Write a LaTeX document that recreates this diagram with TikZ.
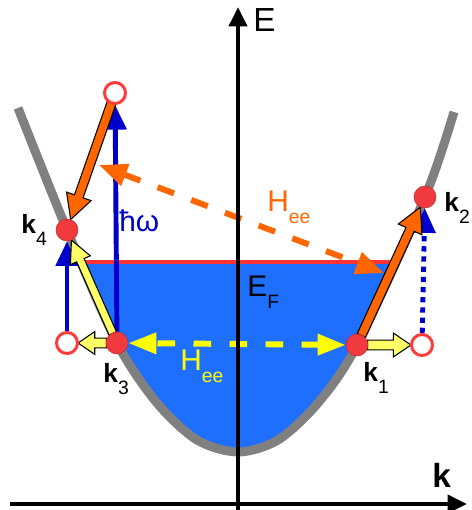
\documentclass[tikz,border=0pt]{standalone}
\usepackage{fontspec}
\setmainfont{Liberation Sans}
\usetikzlibrary{positioning,calc,arrows.meta}

\definecolor{seablue}{RGB}{31,111,255}
\definecolor{bandgray}{RGB}{128,128,128}
\definecolor{fermired}{RGB}{255,51,51}
\definecolor{dotred}{RGB}{240,58,62}
\definecolor{holered}{RGB}{255,60,60}
\definecolor{photonblue}{RGB}{0,0,204}
\definecolor{eeorange}{RGB}{255,102,0}
\definecolor{eeyellow}{RGB}{255,255,0}
\definecolor{lightyellow}{RGB}{255,255,102}

\pgfdeclarelayer{background}
\pgfdeclarelayer{arrowlayer}
\pgfsetlayers{background,arrowlayer,main}

% lowered small index
\newcommand{\lowidx}[1]{\raisebox{-6.5pt}{\normalfont\fontsize{11}{11}\selectfont #1}}
% outlined block arrow: from, to, fill, half shaft, half head, head length
\newcommand{\blockarrow}[6]{%
  \coordinate (ba-s) at ($(#1)!6pt!(#2)$);
  \coordinate (ba-t) at ($(#2)!6.3pt!(#1)$);
  \coordinate (ba-h) at ($(ba-t)!#6!(ba-s)$);
  \filldraw[blockline, fill=#3] ($(ba-s)!#4!90:(ba-t)$) -- ($(ba-h)!#4!90:(ba-t)$)
    -- ($(ba-h)!#5!90:(ba-t)$) -- (ba-t) -- ($(ba-h)!#5!270:(ba-t)$)
    -- ($(ba-h)!#4!270:(ba-t)$) -- ($(ba-s)!#4!270:(ba-t)$) -- cycle;
}

\begin{document}
\begin{tikzpicture}[x=0.02cm, y=0.02cm,
    dot/.style={circle, fill=dotred, draw=dotred!80!black, line width=0.3pt,
                minimum size=0.44cm, inner sep=0pt},
    hole/.style={circle, fill=white, draw=holered, line width=1.7pt,
                 minimum size=0.42cm, inner sep=0pt},
    lbl/.style={anchor=base west, inner sep=0pt, font=\fontsize{17}{17}\selectfont},
    klbl/.style={anchor=base west, inner sep=0pt, font=\fontsize{15}{15}\selectfont\bfseries},
    axis/.style={line width=2.8pt, -{Triangle[length=11pt, width=10pt]}},
    photon/.style={draw=photonblue, line width=2.8pt, -{Triangle[length=14pt, width=12.5pt]}},
    eedash/.style={line width=3.4pt, dash pattern=on 10pt off 10.5pt},
    blockline/.style={draw=black, line width=0.6pt, line join=miter}
]

\useasboundingbox (0,0) rectangle (472,510);

% band and Fermi sea
\begin{pgfonlayer}{background}
\begin{scope}
  \clip plot[smooth] coordinates {(18,402) (67,280) (117,167) (157,107) (197,70)
      (238,58) (278,70) (318,107) (357,165) (425,313) (454,398)} -- cycle;
  \fill[seablue] (0,0) rectangle (472,248);
  \draw[fermired, line width=2.8pt] (0,248) -- (472,248);
\end{scope}
\draw[bandgray, line width=5.1pt] plot[smooth] coordinates {(18,402) (67,280) (117,167)
    (157,107) (197,70) (238,58) (278,70) (318,107) (357,165) (425,313) (454,398)};
\end{pgfonlayer}

% axes
\coordinate (ebot) at (238,0);
\coordinate (etip) at (238,503);
\coordinate (kbot) at (10,6);
\coordinate (ktip) at (467,6);
\draw[axis] (ebot) -- (etip);
\draw[axis] (kbot) -- (ktip);

% states
\node[dot] (k4) at (67,280) {};
\node[dot] (k3) at (117,167) {};
\node[dot] (k1) at (357,165) {};
\node[dot] (k2) at (425,313) {};
\node[hole] (holeT) at (115,417) {};
\node[hole] (holeL) at (67,167) {};
\node[hole] (holeR) at (422,165) {};
\coordinate (heeL) at (99,345);
\coordinate (heeR) at (384,237);

% labels
\node[lbl, font=\fontsize{19}{19}\selectfont] (elbl) at (253,478) {E};
\node[klbl, font=\fontsize{19}{19}\selectfont\bfseries] (klbl) at (432,22) {k};
\node[lbl] (eflbl) at (247,213) {E\lowidx{F}};
\node[lbl, text=photonblue] (hwlbl) at (119,278) {ħω};
\node[lbl, text=eeorange] (heeo) at (267,298) {H\lowidx{ee}};
\node[lbl, text=eeyellow] (heey) at (180,139) {H\lowidx{ee}};
\node[klbl] (k4lbl) at (21,276) {k\lowidx{4}};
\node[klbl] (k3lbl) at (103,127) {k\lowidx{3}};
\node[klbl] (k1lbl) at (363,128) {k\lowidx{1}};
\node[klbl] (k2lbl) at (444,298) {k\lowidx{2}};

\begin{pgfonlayer}{arrowlayer}
\draw[photon] (k3) -- (holeT);
\draw[photon] (holeL) -- (k4);
\draw[photon, dash pattern=on 3pt off 2.8pt] (holeR) -- (k2);
\draw[eedash, draw=eeyellow, {Triangle[length=16pt, width=11.5pt]}-{Triangle[length=16pt, width=11.5pt]}] (k1) -- (k3);
\draw[eedash, draw=eeorange, {Triangle[length=16pt, width=12.5pt]}-{Triangle[length=16pt, width=12.5pt]}] (heeL) -- (heeR);
\blockarrow{k3}{k4}{lightyellow}{2.3pt}{6.2pt}{12.5pt}
\blockarrow{k3}{holeL}{lightyellow}{2.8pt}{6.5pt}{9.5pt}
\blockarrow{k1}{holeR}{lightyellow}{2.8pt}{6.8pt}{10pt}
\blockarrow{holeT}{k4}{eeorange}{2.6pt}{7.4pt}{14pt}
\blockarrow{k1}{k2}{eeorange}{2.6pt}{7.4pt}{14pt}
\end{pgfonlayer}

\end{tikzpicture}
\end{document}
